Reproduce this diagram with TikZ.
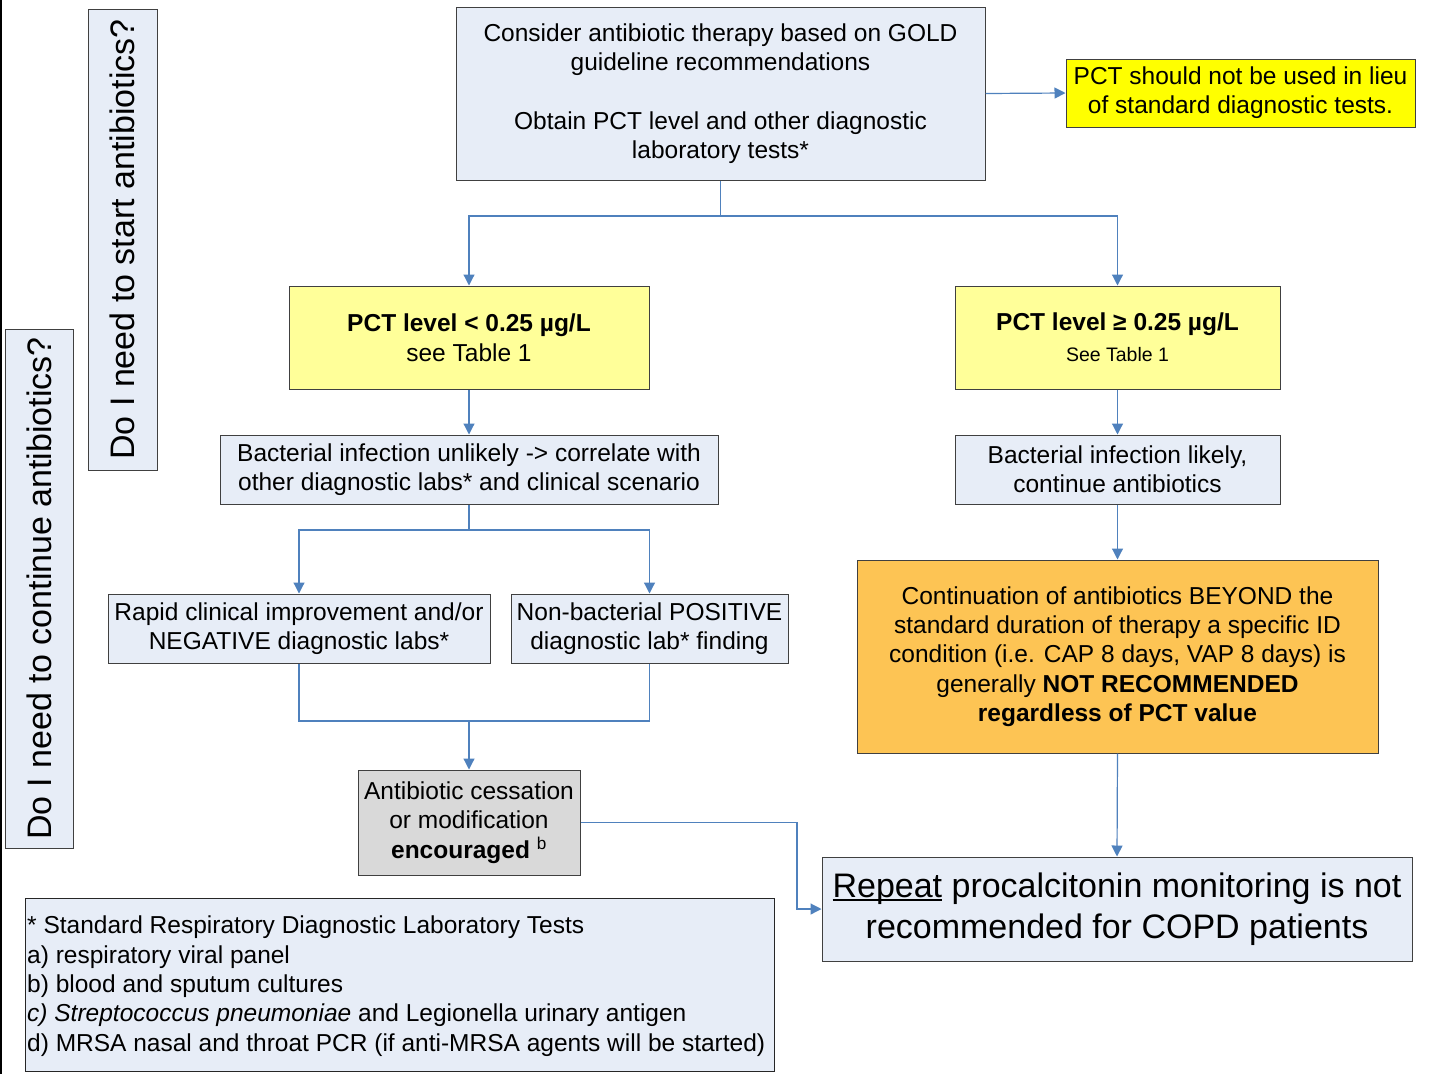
\documentclass[tikz,border=0pt]{standalone}
\usepackage{fontspec}
\setmainfont{Liberation Sans}
\usetikzlibrary{arrows.meta}
\definecolor{boxblue}{RGB}{231,237,247}
\definecolor{lightyel}{RGB}{255,255,153}
\definecolor{brightyel}{RGB}{255,255,0}
\definecolor{orangefill}{RGB}{253,196,84}
\definecolor{greyfill}{RGB}{217,217,217}
\definecolor{edgegray}{RGB}{64,64,64}
\definecolor{arrowblue}{RGB}{79,129,189}
\newcommand\myul[1]{\setbox0\hbox{#1}\rlap{\rule[-3.5pt]{\wd0}{1.6pt}}\box0\relax}
\tikzset{
  box/.style={draw=edgegray, line width=1pt, align=center, inner sep=0pt, font=\fontsize{24.5}{29.3}\selectfont},
  arr/.style={draw=arrowblue, line width=1.2pt, -{Triangle[length=11pt,width=11pt]}},
  ln/.style={draw=arrowblue, line width=1.2pt},
}
\begin{document}
\begin{tikzpicture}[x=1pt,y=-1pt]
\useasboundingbox (0,0) rectangle (1435,1074);
\fill[white] (0,0) rectangle (1435,1074);
\draw[black, line width=2pt] (1,0) -- (1,1074);

% vertical side boxes
\node[box, fill=boxblue, rotate=90, minimum width=461, minimum height=69, font=\fontsize{34}{40}\selectfont] (start) at (122.5,239.5) {Do I need to start antibiotics?};
\node[box, fill=boxblue, rotate=90, minimum width=519, minimum height=68, font=\fontsize{34}{40}\selectfont] (cont) at (39,588.5) {Do I need to continue antibiotics?};

% top
\node[box, fill=boxblue, minimum width=529, minimum height=173] (top) at (720.5,93.5)
  {Consider antibiotic therapy based on GOLD\\ guideline recommendations\\[29.3pt] Obtain PCT level and other diagnostic\\ laboratory tests*};
\node[box, fill=brightyel, minimum width=349, minimum height=68] (note) at (1240.5,93)
  {PCT should not be used in lieu\\ of standard diagnostic tests.};

% PCT levels
\node[box, fill=lightyel, minimum width=360, minimum height=103] (lo) at (469,337.5)
  {\textbf{PCT level < 0.25 µg/L}\\[1pt] see Table 1};
\node[box, fill=lightyel, minimum width=325, minimum height=103] (hi) at (1117.5,337.5)
  {\textbf{PCT level ≥ 0.25 µg/L}\\[2pt] {\fontsize{19.5}{23}\selectfont See Table 1}};

% second row
\node[box, fill=boxblue, minimum width=498, minimum height=69] (unl) at (469,469.5)
  {Bacterial infection unlikely -> correlate with\\ other diagnostic labs* and clinical scenario};
\node[box, fill=boxblue, minimum width=325, minimum height=69] (lik) at (1117.5,469.5)
  {Bacterial infection likely,\\ continue antibiotics};

% third row
\node[box, fill=boxblue, minimum width=382, minimum height=69] (rap) at (299,628.5)
  {Rapid clinical improvement and/or\\ NEGATIVE diagnostic labs*};
\node[box, fill=boxblue, minimum width=277, minimum height=69] (nonb) at (649.5,628.5)
  {Non-bacterial POSITIVE\\ diagnostic lab* finding};

\node[box, fill=orangefill, minimum width=521, minimum height=193] (cont2) at (1117.5,656.5)
  {Continuation of antibiotics BEYOND the\\ standard duration of therapy a specific ID\\ condition (i.e. CAP 8 days, VAP 8 days) is\\ generally \textbf{NOT RECOMMENDED}\\ \textbf{regardless of PCT value}};

\node[box, fill=greyfill, minimum width=222, minimum height=105] (cess) at (469,822.5)
  {Antibiotic cessation\\ or modification\\ \textbf{encouraged} \textsuperscript{b}};

\node[box, fill=boxblue, minimum width=590, minimum height=104, font=\fontsize{34}{41}\selectfont] (rep) at (1117,909)
  {\myul{Repeat} procalcitonin monitoring is not\\ recommended for COPD patients};

\node[draw=black!85, line width=1pt, fill=boxblue, minimum width=749, minimum height=173, inner sep=0pt] (foot) at (399.5,984.5) {};
\node[anchor=north west, align=left, inner sep=0pt, font=\fontsize{24.5}{29.3}\selectfont] (foottext) at (27,916)
  {* Standard Respiratory Diagnostic Laboratory Tests\\
   a) respiratory viral panel\\
   b) blood and sputum cultures\\
   \textit{c) Streptococcus pneumoniae} and Legionella urinary antigen\\
   d) MRSA nasal and throat PCR (if anti-MRSA agents will be started)};

% connectors
\draw[arr] (top.east) -- (note.west);
\coordinate (split1) at (720.5,216);
\draw[ln] (top.south) -- (split1);
\draw[arr] (split1) -| (lo.north);
\draw[arr] (split1) -| (hi.north);
\draw[arr] (lo.south) -- (unl.north);
\draw[arr] (hi.south) -- (lik.north);
\coordinate (split2) at (469,530);
\draw[ln] (unl.south) -- (split2);
\draw[arr] (split2) -| (rap.north);
\draw[arr] (split2) -| (nonb.north);
\coordinate (join) at (469,721);
\draw[ln] (rap.south) |- (join);
\draw[ln] (nonb.south) |- (join);
\draw[arr] (join) -- (cess.north);
\draw[arr] (lik.south) -- (cont2.north);
\draw[arr] (cont2.south) -- (rep.north);
\coordinate (bend) at (797,822.5);
\draw[arr] (cess.east) -- (bend) |- (rep.west);
\end{tikzpicture}
\end{document}
